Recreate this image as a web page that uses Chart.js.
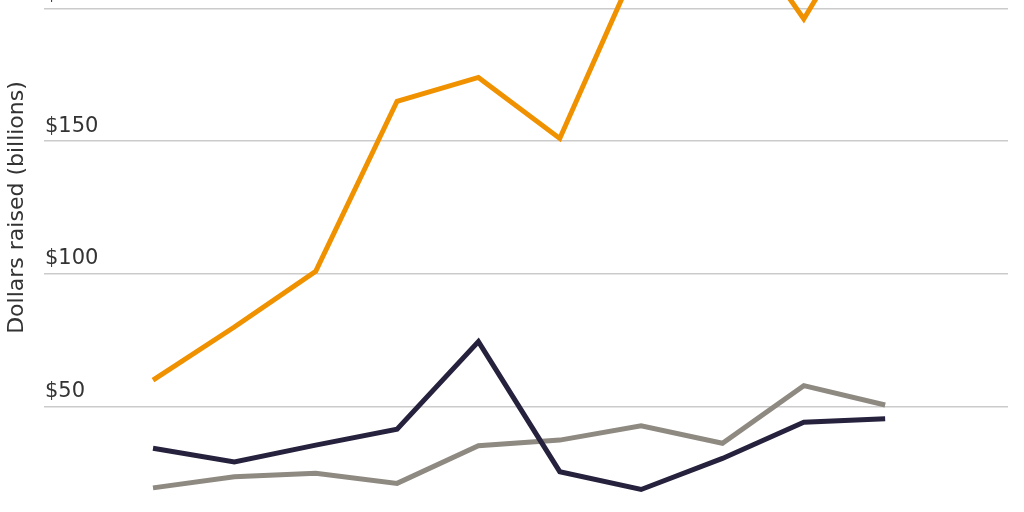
<!DOCTYPE html>
<html>
<head>
<meta charset="utf-8">
<script src="https://cdn.jsdelivr.net/npm/chart.js@4"></script>
<style>
    html, body { margin: 0; padding: 0; background: #ffffff; overflow: hidden; width: 1024px; height: 512px; }
    /* the chart is taller than the window: its top and its x axis fall outside the picture */
    #wrap { position: absolute; left: 0; top: -138px; width: 1024px; height: 691px; }
</style>
</head>
<body>
<div id="wrap"><canvas id="line"></canvas></div>
<script>
// DATA
const years = ['2009', '2010', '2011', '2012', '2013', '2014', '2015', '2016', '2017', '2018'];
const orangeSeries = [60, 80, 101, 165, 174, 151, 220, 240, 196, 247];
const navySeries = [34.3, 29.2, 35.5, 41.5, 74.5, 25.5, 18.8, 30.5, 44.1, 45.4];
const graySeries = [19.4, 23.6, 24.9, 21.1, 35.3, 37.4, 42.8, 36.2, 57.9, 50.6];
const yTicks = [50, 100, 150, 200, 250];

const toPoints = (values) => values.map((v, i) => ({ x: i, y: v }));

const lineStyle = {
    borderWidth: 5,
    pointRadius: 0,
    pointHoverRadius: 0,
    tension: 0,
    fill: false,
    borderJoinStyle: 'miter',
    borderCapStyle: 'butt'
};

const ctx = document.getElementById('line').getContext('2d');

new Chart(ctx, {
    type: 'line',
    data: {
        labels: years,
        datasets: [
            { label: 'Orange', data: toPoints(orangeSeries), borderColor: '#F09100', ...lineStyle },
            { label: 'Navy', data: toPoints(navySeries), borderColor: '#26213D', ...lineStyle },
            { label: 'Gray', data: toPoints(graySeries), borderColor: '#8E8981', ...lineStyle }
        ]
    },
    options: {
        responsive: true,
        maintainAspectRatio: false,
        animation: false,
        layout: {
            padding: { top: 10, bottom: 10, left: 0, right: 16 }
        },
        plugins: {
            legend: { display: false },
            tooltip: { enabled: false }
        },
        scales: {
            x: {
                type: 'linear',
                display: false,
                min: -1.34,
                max: 10.51
            },
            y: {
                min: 0,
                max: 250,
                afterBuildTicks: (scale) => {
                    scale.ticks = yTicks.map(v => ({ value: v }));
                },
                afterFit: (scale) => {
                    scale.width = 44;
                },
                border: { display: false },
                grid: {
                    color: '#cbcbcb',
                    lineWidth: 1.5,
                    drawTicks: false
                },
                ticks: {
                    mirror: true,
                    padding: 1,
                    labelOffset: -15,
                    color: '#333333',
                    font: { family: 'DejaVu Sans', size: 21 },
                    callback: (value) => '$' + value
                },
                title: {
                    display: true,
                    text: 'Dollars raised (billions)',
                    color: '#333333',
                    padding: { top: 4, bottom: 0 },
                    font: { family: 'DejaVu Sans', size: 22 }
                }
            }
        }
    }
});
</script>
</body>
</html>
